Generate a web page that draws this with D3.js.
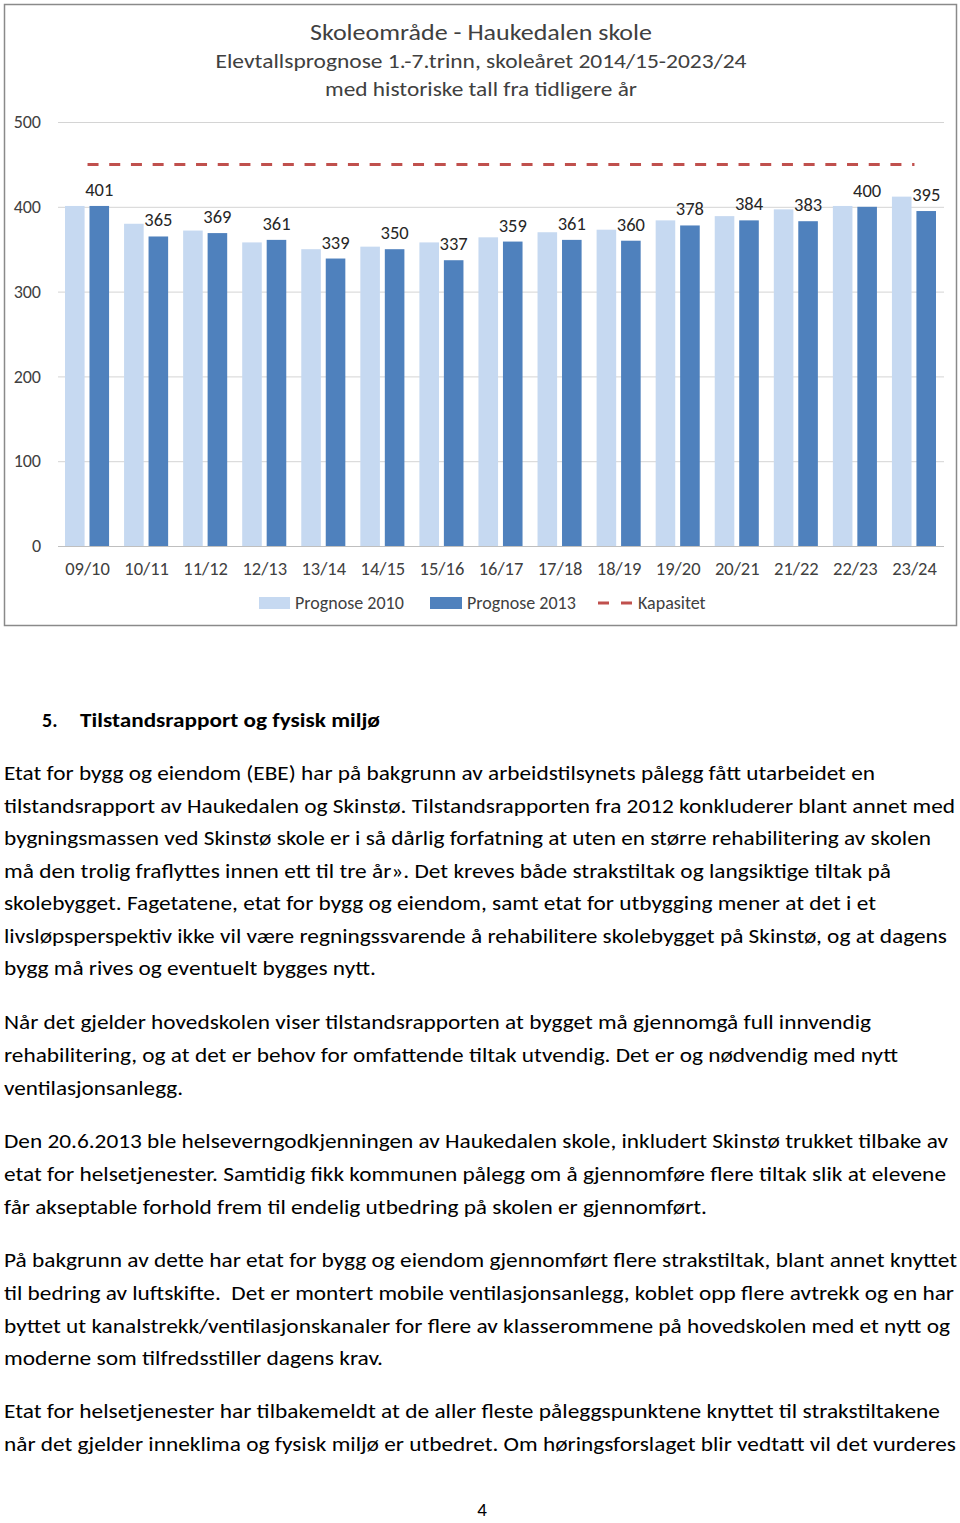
<!DOCTYPE html>
<html>
<head>
<meta charset="utf-8">
<script src="https://cdn.jsdelivr.net/npm/d3@7"></script>
<style>
  html, body { margin: 0; padding: 0; background: #fff; }
  svg { display: block; }
  text { font-family: Carlito, Lato, "Open Sans", sans-serif; }
</style>
</head>
<body>
<svg id="page" width="960" height="1523"></svg>
<script>
// ---------- DATA ----------
const categories = ["09/10","10/11","11/12","12/13","13/14","14/15","15/16","16/17","17/18","18/19","19/20","20/21","21/22","22/23","23/24"];
const prognose2010 = [401, 380, 372, 358, 350, 353, 358, 364, 370, 373, 384, 389, 397, 401, 412];
const prognose2013 = [401, 365, 369, 361, 339, 350, 337, 359, 361, 360, 378, 384, 383, 400, 395];
const kapasitet = [450, 450, 450, 450, 450, 450, 450, 450, 450, 450, 450, 450, 450, 450, 450];
const yTicks = [0, 100, 200, 300, 400, 500];
const seriesNames = ["Prognose 2010", "Prognose 2013", "Kapasitet"];
const titleLines = [
  "Skoleområde - Haukedalen skole",
  "Elevtallsprognose 1.-7.trinn, skoleåret 2014/15-2023/24",
  "med historiske tall fra tidligere år"
];
const heading = ["5.", "Tilstandsrapport og fysisk miljø"];
const paragraphs = [
  ["Etat for bygg og eiendom (EBE) har på bakgrunn av arbeidstilsynets pålegg fått utarbeidet en",
   "tilstandsrapport av Haukedalen og Skinstø. Tilstandsrapporten fra 2012 konkluderer blant annet med",
   "bygningsmassen ved Skinstø skole er i så dårlig forfatning at uten en større rehabilitering av skolen",
   "må den trolig fraflyttes innen ett til tre år». Det kreves både strakstiltak og langsiktige tiltak på",
   "skolebygget. Fagetatene, etat for bygg og eiendom, samt etat for utbygging mener at det i et",
   "livsløpsperspektiv ikke vil være regningssvarende å rehabilitere skolebygget på Skinstø, og at dagens",
   "bygg må rives og eventuelt bygges nytt."],
  ["Når det gjelder hovedskolen viser tilstandsrapporten at bygget må gjennomgå full innvendig",
   "rehabilitering, og at det er behov for omfattende tiltak utvendig. Det er og nødvendig med nytt",
   "ventilasjonsanlegg."],
  ["Den 20.6.2013 ble helseverngodkjenningen av Haukedalen skole, inkludert Skinstø trukket tilbake av",
   "etat for helsetjenester. Samtidig fikk kommunen pålegg om å gjennomføre flere tiltak slik at elevene",
   "får akseptable forhold frem til endelig utbedring på skolen er gjennomført."],
  ["På bakgrunn av dette har etat for bygg og eiendom gjennomført flere strakstiltak, blant annet knyttet",
   "til bedring av luftskifte.  Det er montert mobile ventilasjonsanlegg, koblet opp flere avtrekk og en har",
   "byttet ut kanalstrekk/ventilasjonskanaler for flere av klasserommene på hovedskolen med et nytt og",
   "moderne som tilfredsstiller dagens krav."],
  ["Etat for helsetjenester har tilbakemeldt at de aller fleste påleggspunktene knyttet til strakstiltakene",
   "når det gjelder inneklima og fysisk miljø er utbedret. Om høringsforslaget blir vedtatt vil det vurderes"]
];
const pageNumber = "4";

// ---------- LAYOUT ----------
const svg = d3.select("#page");
const colLight = "#C6D9F1", colDark = "#4F81BD", colRed = "#C0504D";
const textGrey = "#404040";
const fontStack = "Carlito, Lato, 'Open Sans', sans-serif";

// chart frame
svg.append("rect").attr("x", 4.5).attr("y", 4.5).attr("width", 952).attr("height", 621)
  .attr("fill", "#fff").attr("stroke", "#8a8a8a").attr("stroke-width", 1.5);

// titles
const titleSpec = [{y: 40, size: 23, w: 342}, {y: 68, size: 20, w: 531}, {y: 96, size: 20, w: 312}];
titleLines.forEach((t, i) => {
  svg.append("text").attr("x", 481).attr("y", titleSpec[i].y)
    .attr("text-anchor", "middle").attr("font-size", titleSpec[i].size)
    .attr("fill", textGrey)
    .attr("textLength", titleSpec[i].w).attr("lengthAdjust", "spacingAndGlyphs")
    .text(t);
});

const plot = {left: 58, right: 944, top: 122, bottom: 546};
const x0 = d3.scaleBand().domain(categories).range([plot.left, plot.right]).padding(0);
const x1 = d3.scaleBand().domain(["p2010", "p2013"]).range([7, x0.bandwidth() - 8]).paddingInner(0.2);
const y = d3.scaleLinear().domain([0, 500]).range([plot.bottom, plot.top]);

// gridlines + y axis
const yAxis = d3.axisLeft(y).tickValues(yTicks).tickSize(-(plot.right - plot.left)).tickPadding(17);
const gy = svg.append("g").attr("transform", `translate(${plot.left},0)`).call(yAxis);
gy.select(".domain").remove();
gy.selectAll(".tick line").attr("stroke", "#D4D4D4").attr("stroke-width", 1);
gy.selectAll(".tick text").attr("font-size", 18).attr("fill", textGrey)
  .style("font-family", fontStack);

// bars
const gCat = svg.append("g").selectAll("g").data(categories).join("g")
  .attr("transform", d => `translate(${x0(d)},0)`);
gCat.append("rect")
  .attr("x", x1("p2010")).attr("width", x1.bandwidth())
  .attr("y", (d, i) => y(prognose2010[i])).attr("height", (d, i) => y(0) - y(prognose2010[i]))
  .attr("fill", colLight);
gCat.append("rect")
  .attr("x", x1("p2013")).attr("width", x1.bandwidth())
  .attr("y", (d, i) => y(prognose2013[i])).attr("height", (d, i) => y(0) - y(prognose2013[i]))
  .attr("fill", colDark);
gCat.append("text")
  .attr("x", x1("p2013") + x1.bandwidth() / 2)
  .attr("y", (d, i) => y(prognose2013[i]) - 10)
  .attr("text-anchor", "middle").attr("font-size", 18.5).attr("fill", "#262626")
  .text((d, i) => prognose2013[i]);

// zero baseline
svg.append("line").attr("x1", plot.left).attr("x2", plot.right)
  .attr("y1", y(0) + 0.5).attr("y2", y(0) + 0.5).attr("stroke", "#BFBFBF");

// x axis labels
const xAxis = d3.axisBottom(x0).tickSize(0).tickPadding(16);
const gx = svg.append("g").attr("transform", `translate(0,${plot.bottom})`).call(xAxis);
gx.select(".domain").remove();
gx.selectAll(".tick text").attr("font-size", 18.5).attr("fill", textGrey)
  .style("font-family", fontStack);

// kapasitet line
const line = d3.line().x((d, i) => x0(categories[i]) + x0.bandwidth() / 2).y(d => y(d));
svg.append("path").datum(kapasitet).attr("d", line)
  .attr("fill", "none").attr("stroke", colRed).attr("stroke-width", 3)
  .attr("stroke-dasharray", "11,10.7");

// legend
const lg = svg.append("g");
lg.append("rect").attr("x", 259).attr("y", 597).attr("width", 31).attr("height", 12).attr("fill", colLight);
lg.append("text").attr("x", 295).attr("y", 609).attr("font-size", 18).attr("fill", textGrey).text(seriesNames[0]);
lg.append("rect").attr("x", 430).attr("y", 597).attr("width", 32).attr("height", 12).attr("fill", colDark);
lg.append("text").attr("x", 467).attr("y", 609).attr("font-size", 18).attr("fill", textGrey).text(seriesNames[1]);
lg.append("line").attr("x1", 598).attr("x2", 634).attr("y1", 603).attr("y2", 603)
  .attr("stroke", colRed).attr("stroke-width", 3).attr("stroke-dasharray", "11,12");
lg.append("text").attr("x", 638).attr("y", 609).attr("font-size", 18).attr("fill", textGrey).text(seriesNames[2]);

// ---------- DOCUMENT TEXT ----------
svg.append("text").attr("x", 42).attr("y", 727).attr("font-size", 20).attr("font-weight", "bold").text(heading[0]);
svg.append("text").attr("x", 80).attr("y", 727).attr("font-size", 20).attr("font-weight", "bold")
  .attr("textLength", 300).attr("lengthAdjust", "spacingAndGlyphs").text(heading[1]);

const paraBaselines = [
  [780, 813, 845, 878, 910, 943, 975],
  [1029, 1062, 1095],
  [1148, 1181, 1214],
  [1267, 1300, 1333, 1365],
  [1418, 1451]
];
const paraWidths = [
  [871, 951, 927, 887, 872, 943, 372],
  [867, 894, 179],
  [944, 942, 703],
  [953, 950, 946, 379],
  [936, 952]
];
paragraphs.forEach((p, pi) => {
  p.forEach((ln, li) => {
    svg.append("text").attr("x", 4).attr("y", paraBaselines[pi][li])
      .attr("font-size", 20).attr("fill", "#000")
      .attr("textLength", paraWidths[pi][li]).attr("lengthAdjust", "spacingAndGlyphs")
      .style("white-space", "pre")
      .text(ln);
  });
});

svg.append("text").attr("x", 482).attr("y", 1516).attr("text-anchor", "middle")
  .attr("font-size", 19).text(pageNumber);
</script>
</body>
</html>
